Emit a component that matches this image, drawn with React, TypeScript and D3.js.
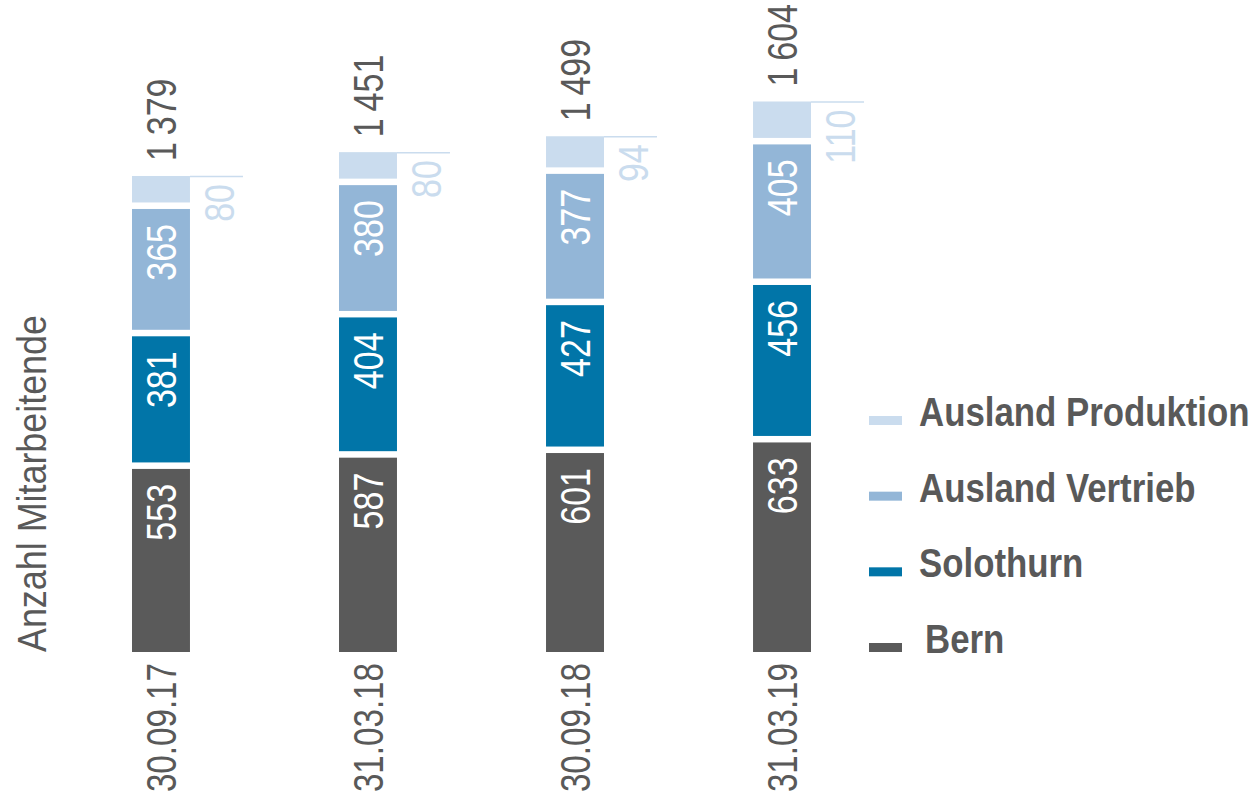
import React from 'react'
import * as d3 from 'd3'

// reporting dates
const dates = ['30.09.17', '31.03.18', '30.09.18', '31.03.19']
// series stacked bottom to top
const seriesNames = ['Bern', 'Solothurn', 'Ausland Vertrieb', 'Ausland Produktion']
const bern = [553, 587, 601, 633]
const solothurn = [381, 404, 427, 456]
const auslandVertrieb = [365, 380, 377, 405]
const auslandProduktion = [80, 80, 94, 110]
const totals = [1379, 1451, 1499, 1604]
const colors = ['#5a5a5a', '#0175a8', '#93b6d7', '#cadcee']

const W = 1257
const H = 798
const BASE = 652
const GAP = 6.5
const FONT = "'Liberation Sans', Arial, sans-serif"
const GREY = '#595959'
const NARROW = 0.81 // no narrow font installed, squeeze the glyphs

const fmt = (n: number) => d3.format(',')(n).replace(',', '\u2009')

// rotated (bottom to top) label, condensed along its reading direction
const VText = ({ x, y, anchor, fill, size = 42, squeeze = NARROW, children }: any) => (
  <text
    transform={`translate(${x}, ${y}) rotate(-90) scale(${squeeze}, 1)`}
    textAnchor={anchor}
    fontFamily={FONT}
    fontSize={size}
    fill={fill}
  >
    {children}
  </text>
)

export default function App() {
  const rows = dates.map((d, i) => ({
    date: d,
    Bern: bern[i],
    Solothurn: solothurn[i],
    'Ausland Vertrieb': auslandVertrieb[i],
    'Ausland Produktion': auslandProduktion[i],
  }))
  const stacked = d3.stack<any>().keys(seriesNames)(rows)

  const x = d3.scaleBand().domain(dates).range([132, 811]).paddingInner(0.72).paddingOuter(0)
  const y = d3.scaleLinear().domain([0, 1604]).range([BASE, BASE - 531])
  const bw = x.bandwidth()

  // legend drawn top to bottom
  const legendItems = seriesNames.slice().reverse()
  const legendY = d3.scalePoint().domain(legendItems).range([426, 653])

  return (
    <svg width={W} height={H} style={{ position: 'absolute', left: 0, top: 0, background: '#fff' }}>
      {/* axis title */}
      <VText x={46} y={BASE} anchor="start" fill={GREY} size={41} squeeze={0.875}>
        Anzahl Mitarbeitende
      </VText>

      {stacked.map((layer, si) => (
        <g key={layer.key}>
          {layer.map((seg, i) => {
            const x0 = x(dates[i])!
            const yb = y(seg[0]) - si * GAP
            const yt = y(seg[1]) - si * GAP
            const val = seg[1] - seg[0]
            const cx = x0 + bw / 2
            const isTop = si === seriesNames.length - 1
            return (
              <g key={i}>
                <rect x={x0} y={yt} width={bw} height={yb - yt} fill={colors[si]} />
                {!isTop && (
                  <VText x={cx + 15} y={yt + 15} anchor="end" fill="#fff">
                    {val}
                  </VText>
                )}
                {isTop && (
                  <>
                    <line x1={x0 + bw} x2={x0 + bw + 53} y1={yt + 0.5} y2={yt + 0.5} stroke={colors[si]} strokeWidth={1.5} />
                    <VText x={x0 + bw + 44} y={yt + 8} anchor="end" fill={colors[si]}>
                      {val}
                    </VText>
                    <VText x={cx + 15} y={yt - 15} anchor="start" fill={GREY}>
                      {fmt(totals[i])}
                    </VText>
                  </>
                )}
              </g>
            )
          })}
        </g>
      ))}

      {/* date labels */}
      {dates.map(d => (
        <VText key={d} x={x(d)! + bw / 2 + 15} y={BASE + 11} anchor="end" fill={GREY} squeeze={0.79}>
          {d}
        </VText>
      ))}

      {/* legend */}
      {legendItems.map(name => {
        const ly = legendY(name)!
        const ci = seriesNames.indexOf(name)
        return (
          <g key={name}>
            <rect x={869} y={ly - 10} width={33} height={9} fill={colors[ci]} />
            <text
              transform={`translate(${name === 'Bern' ? 925 : 919}, ${ly}) scale(0.87, 1)`}
              fontFamily={FONT}
              fontWeight="bold"
              fontSize={40}
              fill={GREY}
            >
              {name}
            </text>
          </g>
        )
      })}
    </svg>
  )
}
